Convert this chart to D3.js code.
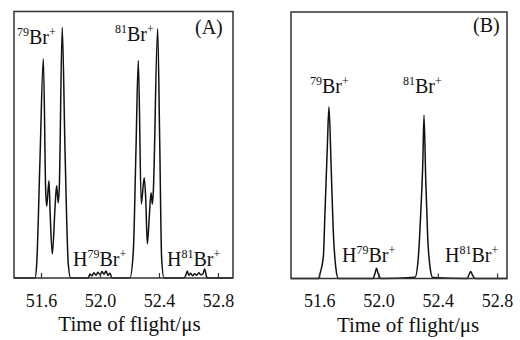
<!DOCTYPE html>
<html>
<head>
<meta charset="utf-8">
<script src="https://cdn.jsdelivr.net/npm/d3@7"></script>
<style>
  body { margin: 0; background: #fff; }
  svg { display: block; }
  text { font-family: 'Liberation Serif', 'Times New Roman', serif; fill: #111; }
</style>
</head>
<body>
<div id="chart"></div>
<script>
// Shared axis ticks and title.
const tick_values = [ 51.6, 52.0, 52.4, 52.8 ];
const x_axis_title = 'Time of flight/μs';

// Panel (A): time of flight (μs) and signal (arb. units, 100 = frame top).
const tof_a = [ 51.42, 51.559, 51.571, 51.593, 51.616, 51.632, 51.639, 51.654, 51.663, 51.677,
  51.695, 51.706, 51.717, 51.724, 51.744, 51.763, 51.785, 51.801,
  51.92, 51.932, 51.946, 51.959, 51.973, 51.986, 52.0, 52.014, 52.027, 52.041, 52.054, 52.068, 52.081,
  52.203, 52.226, 52.244, 52.26, 52.28, 52.3, 52.31, 52.321, 52.334, 52.346, 52.355, 52.361,
  52.391, 52.405, 52.418, 52.434,
  52.57, 52.583, 52.592, 52.602, 52.615, 52.628, 52.642, 52.656, 52.67, 52.684, 52.698, 52.71, 52.722, 52.73,
  52.90 ];
const signal_a = [ 0, 0, 5.3, 44, 82.3, 32.7, 27, 36.5, 23, 9,
  26.3, 34.6, 28.2, 33.8, 94, 47.7, 5.3, 0,
  0, 1.5, 0.8, 2, 1, 2.2, 1.2, 2.4, 1.4, 2.6, 1, 1.8, 0,
  0, 10, 48, 81.6, 27.8, 37.6, 30, 12.8, 22.6, 32, 27.8, 31.6,
  93.5, 51.5, 7.5, 0,
  0, 1.2, 2.6, 1, 1.8, 0.8, 1.6, 1, 2, 1.2, 1.6, 3.4, 0.6, 0,
  0 ];

// Panel (B).
const tof_b = [ 51.41, 51.598, 51.601, 51.628, 51.639, 51.655, 51.666, 51.68, 51.695, 51.712, 51.729,
  51.963, 51.977, 51.987, 51.997, 52.01, 52.02,
  52.247, 52.269, 52.285, 52.299, 52.307, 52.319, 52.332, 52.348, 52.366,
  52.598, 52.611, 52.623, 52.635, 52.652, 52.867 ];
const signal_b = [ 0, 0, 0.8, 8, 24.4, 49.4, 64.4, 43.2, 18, 4.2, 0,
  0, 2, 3.8, 2, 0.3, 0,
  0.5, 8, 24.4, 43.2, 61.3, 36.8, 15.5, 4.2, 0.4,
  0, 1.5, 2.6, 1.2, 0, 0 ];

// Peak labels: prefix, isotope mass, suffix.
const peak_labels = [ [ '', '79', '+' ], [ '', '81', '+' ], [ 'H', '79', '+' ], [ 'H', '81', '+' ] ];


class SpectrumPanel{

  constructor( svg, tof, signal, options ){
    this.svg = svg;
    this.tof = tof;
    this.signal = signal;
    this.settings = options;
    this.render_panel();
    this.render_labels();
  }

  render_panel(){
    const s = this.settings;
    this.g = this.svg.append( 'g' )
      .attr( 'transform', 'translate(' + s.left + ',' + s.top + ')' );

    this.x_scale = d3.scaleLinear().domain( s.x_domain ).range( [ 0, s.width ] );
    this.y_scale = d3.scaleLinear().domain( [ 0, 100 ] ).range( [ s.height, 0 ] );

    // Spectrum trace.
    const line = d3.line()
      .x( ( d, i ) => this.x_scale( this.tof[i] ) )
      .y( d => this.y_scale( d ) )
      .curve( d3.curveMonotoneX );
    this.g.append( 'path' )
      .datum( this.signal )
      .attr( 'd', line )
      .attr( 'fill', 'none' )
      .attr( 'stroke', '#111' )
      .attr( 'stroke-width', 1.5 )
      .attr( 'stroke-linejoin', 'round' );

    // Bottom axis, ticks pointing inward.
    const axis = this.g.append( 'g' )
      .attr( 'transform', 'translate(0,' + s.height + ')' )
      .call( d3.axisBottom( this.x_scale ).tickValues( tick_values ).tickFormat( d3.format( '.1f' ) )
        .tickSizeInner( -5 ).tickSizeOuter( 0 ).tickPadding( 16 ) );
    axis.select( '.domain' ).remove();
    axis.selectAll( 'line' ).attr( 'stroke', '#333' ).attr( 'stroke-width', 1.2 );
    axis.selectAll( 'text' ).attr( 'font-size', 18 ).attr( 'font-family', null ).attr( 'fill', '#111' );

    // Frame.
    this.g.append( 'rect' )
      .attr( 'width', s.width )
      .attr( 'height', s.height )
      .attr( 'fill', 'none' )
      .attr( 'stroke', '#333' )
      .attr( 'stroke-width', 1.5 );

    // Axis title, centred on the tick range.
    this.g.append( 'text' )
      .attr( 'x', this.x_scale( 52.2 ) )
      .attr( 'y', s.height + 53 )
      .attr( 'text-anchor', 'middle' )
      .attr( 'font-size', 21 )
      .text( x_axis_title );
  }

  render_labels(){
    const s = this.settings;
    peak_labels.forEach( ( lab, i ) => {
      const pos = s.label_pos[i];
      const t = this.g.append( 'text' )
        .attr( 'x', pos[0] )
        .attr( 'y', pos[1] )
        .attr( 'font-size', 20 );
      if( lab[0] ) t.append( 'tspan' ).text( lab[0] );
      t.append( 'tspan' ).attr( 'font-size', 12 ).attr( 'dy', -8 ).text( lab[1] );
      t.append( 'tspan' ).attr( 'dy', 8 ).text( 'Br' );
      t.append( 'tspan' ).attr( 'font-size', 12 ).attr( 'dy', -8 ).text( lab[2] );
    } );
    this.g.append( 'text' )
      .attr( 'x', s.tag_pos[0] )
      .attr( 'y', s.tag_pos[1] )
      .attr( 'font-size', 20 )
      .text( s.tag );
  }

}


const svg = d3.select( '#chart' ).append( 'svg' )
  .attr( 'width', 520 )
  .attr( 'height', 340 );

new SpectrumPanel( svg, tof_a, signal_a, {
  left: 14, top: 11.5, width: 219, height: 266.5,
  x_domain: [ 51.417, 52.902 ],
  tag: '(A)', tag_pos: [ 181, 22 ],
  label_pos: [ [ 3, 32 ], [ 101, 29 ], [ 59, 254 ], [ 153, 254 ] ]
} );

new SpectrumPanel( svg, tof_b, signal_b, {
  left: 291, top: 12, width: 216, height: 266.5,
  x_domain: [ 51.41, 52.867 ],
  tag: '(B)', tag_pos: [ 182, 20 ],
  label_pos: [ [ 19, 81 ], [ 112, 81 ], [ 51, 250 ], [ 154, 250 ] ]
} );
</script>
</body>
</html>
